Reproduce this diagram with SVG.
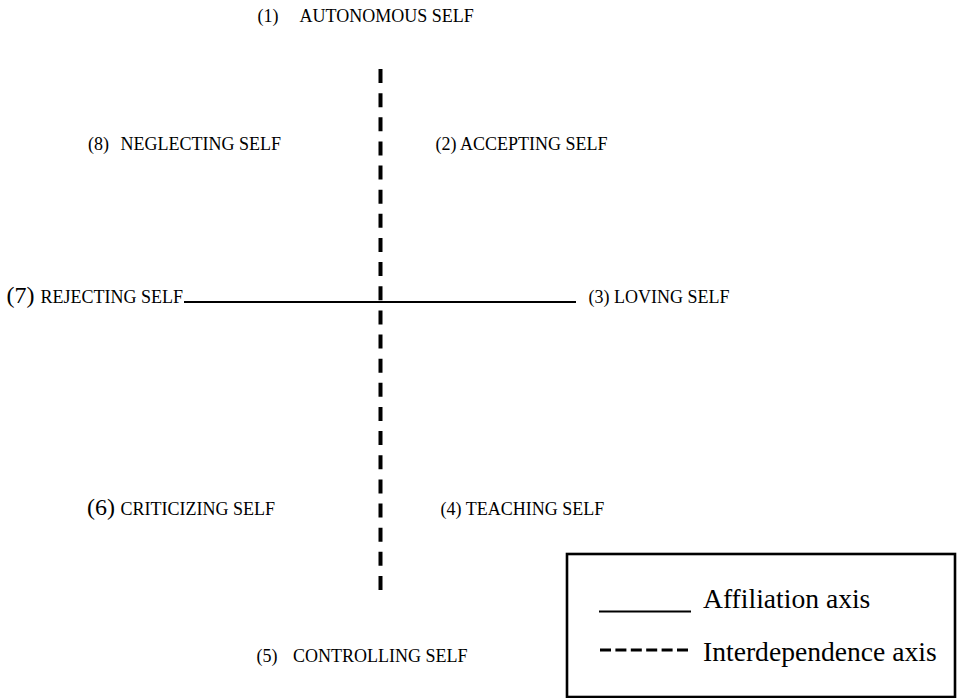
<svg xmlns="http://www.w3.org/2000/svg" width="957" height="698" viewBox="0 0 957 698">
<style>
text{font-family:"Liberation Serif","Times New Roman",serif;fill:#000;}
.lbl{font-size:18px;}
.big{font-size:24px;}
.leg{font-size:27.6px;}
.solid{stroke:#000;stroke-width:2;fill:none;}
.dash{stroke:#000;stroke-width:4;fill:none;stroke-dasharray:14 10.14;}
.ldash{stroke:#000;stroke-width:3;fill:none;stroke-dasharray:11 4.4;}
</style>
<rect width="957" height="698" fill="#fff"/>
<g id="connectors">
<line class="dash" x1="380.5" y1="69" x2="380.5" y2="590"/>
<line class="solid" x1="184" y1="302" x2="576" y2="302"/>
</g>
<g id="n1"><text class="lbl" y="22"><tspan x="257.5">(1)</tspan><tspan x="299.5">AUTONOMOUS SELF</tspan></text></g>
<g id="n2"><text class="lbl" x="435.5" y="150">(2) ACCEPTING SELF</text></g>
<g id="n3"><text class="lbl" x="588.5" y="303">(3) LOVING SELF</text></g>
<g id="n4"><text class="lbl" x="440.5" y="515">(4) TEACHING SELF</text></g>
<g id="n5"><text class="lbl" y="662"><tspan x="256.5">(5)</tspan><tspan x="293">CONTROLLING SELF</tspan></text></g>
<g id="n6"><text y="515"><tspan class="big" x="87">(6)</tspan><tspan class="lbl" x="120.5">CRITICIZING SELF</tspan></text></g>
<g id="n7"><text y="303"><tspan class="big" x="6.5">(7)</tspan><tspan class="lbl" x="40.5">REJECTING SELF</tspan></text></g>
<g id="n8"><text class="lbl" y="150"><tspan x="88">(8)</tspan><tspan x="120.5">NEGLECTING SELF</tspan></text></g>
<g id="legend">
<rect x="567" y="554" width="388" height="143" fill="none" stroke="#000" stroke-width="2.6"/>
<line class="solid" x1="599" y1="611.5" x2="691" y2="611.5"/>
<text class="leg" x="703" y="608">Affiliation axis</text>
<line class="ldash" x1="600" y1="650" x2="688" y2="650"/>
<text class="leg" x="703" y="661">Interdependence axis</text>
</g>
</svg>
